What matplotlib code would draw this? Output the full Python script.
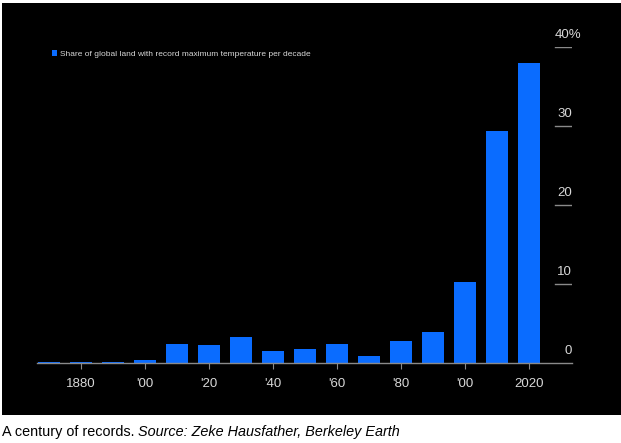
import matplotlib
matplotlib.use("Agg")
import matplotlib.pyplot as plt
from matplotlib.patches import Rectangle
from matplotlib.transforms import blended_transform_factory, offset_copy

plt.rcParams['font.family'] = ['Liberation Sans', 'DejaVu Sans']

# share of global land with record max temperature, per decade (%)
decades = [1870, 1880, 1890, 1900, 1910, 1920, 1930, 1940,
           1950, 1960, 1970, 1980, 1990, 2000, 2010, 2020]
shares = [0.1, 0.1, 0.1, 0.3, 2.4, 2.2, 3.2, 1.5,
          1.7, 2.4, 0.9, 2.8, 3.9, 10.2, 29.4, 38.0]

tick_years = [1880, 1900, 1920, 1940, 1960, 1980, 2000, 2020]
tick_labels = ['1880', "'00", "'20", "'40", "'60", "'80", "'00", '2020']
y_ticks = [0, 10, 20, 30, 40]
y_labels = ['0', '10', '20', '30', '40%']

legend_label = 'Share of global land with record maximum temperature per decade'
caption = 'A century of records.'
source = ' Source: Zeke Hausfather, Berkeley Earth'

W, H = 621, 443
fig = plt.figure(figsize=(W / 100, H / 100), dpi=100)
fig.patch.set_facecolor('white')

# black card behind the chart
fig.patches.append(Rectangle((2 / W, (H - 415) / H), 1 - 2 / W, (415 - 3) / H,
                             transform=fig.transFigure, facecolor='black',
                             edgecolor='none', zorder=-5))

x0, x1 = 37, 572
ybot, ytop = 362.7, 47
ax = fig.add_axes([x0 / W, (H - ybot) / H, (x1 - x0) / W, (ybot - ytop) / H])
ax.set_facecolor('none')
ax.set_zorder(2)

bars = ax.bar(decades, shares, width=6.9, color='#0a6cff', label=legend_label,
              zorder=3)

ax.set_xlim(1866.3, 2033.4)
ax.set_ylim(0, 40)

for s in ['top', 'right', 'left']:
    ax.spines[s].set_visible(False)
ax.spines['bottom'].set_color('#8a8a8a')
ax.spines['bottom'].set_linewidth(1.0)
ax.spines['bottom'].set_zorder(4)

ax.set_xticks(tick_years)
ax.set_xticklabels(tick_labels)
ax.tick_params(axis='x', colors='#8a8a8a', length=4, width=0.8, pad=7,
               labelcolor='#d8d8d8', labelsize=9.5)
ax.set_yticks([])

# right-hand value ticks: short rules with labels above
tick_x0 = (555 - x0) / (x1 - x0)
trans = blended_transform_factory(ax.transAxes, ax.transData)
lab_trans = offset_copy(trans, fig=fig, x=0, y=4, units='points')
for v in y_ticks[1:]:
    ax.axhline(v, xmin=tick_x0, xmax=1.0, color='#8a8a8a', lw=1.0, zorder=2)
for v, lab in zip(y_ticks, y_labels):
    if lab.endswith('%'):
        ax.text(tick_x0, v, lab, transform=lab_trans, ha='left', va='bottom',
                color='#d8d8d8', fontsize=9.5)
    else:
        ax.text(1.0, v, lab, transform=lab_trans, ha='right', va='bottom',
                color='#d8d8d8', fontsize=9.5)

leg = ax.legend(loc='upper left', bbox_to_anchor=(52 / W, (H - 50) / H),
                bbox_transform=fig.transFigure, frameon=False,
                fontsize=6.0, handlelength=0.55, handleheight=0.7,
                handletextpad=0.45, borderaxespad=0, borderpad=0)
for t in leg.get_texts():
    t.set_color('#d8d8d8')

t1 = fig.text(2 / W, (H - 432) / H, caption, ha='left', va='center',
              fontsize=10.4, color='black')
fig.canvas.draw()
bb = t1.get_window_extent()
fig.text(bb.x1 / W, (H - 432) / H, source, ha='left', va='center',
         fontsize=10.4, style='italic', color='black')

fig.savefig('out.png', dpi=100, facecolor=fig.get_facecolor())
